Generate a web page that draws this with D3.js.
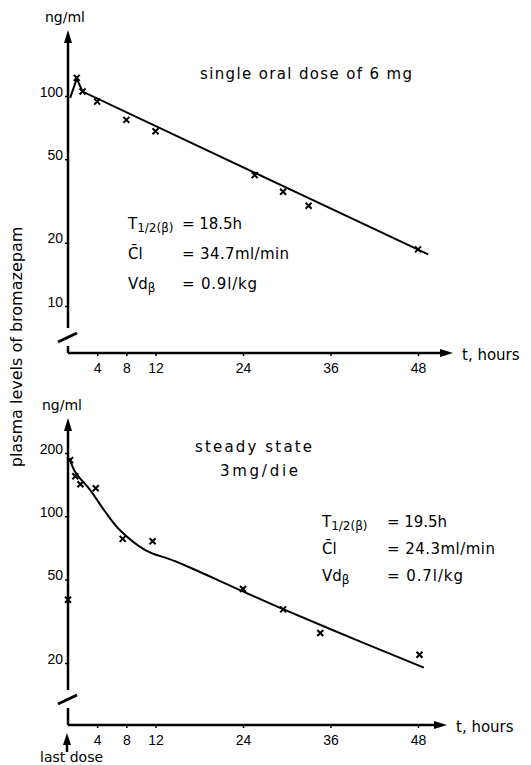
<!DOCTYPE html>
<html>
<head>
<meta charset="utf-8">
<script src="https://cdn.jsdelivr.net/npm/d3@7"></script>
<style>
  body { margin: 0; background: #fff; }
  svg { font-family: "DejaVu Sans", sans-serif; }
</style>
</head>
<body>
<svg id="chart" width="531" height="765"></svg>
<script>
// values
const hourTicks = [4, 8, 12, 24, 36, 48];

const singleTicks = [10, 20, 50, 100];
const singleHours = [1.2, 2, 4, 8, 12, 25.6, 29.5, 33, 48];
const singleLevels = [122, 105, 94, 77, 68, 42, 35, 30, 18.6];
const singleFitHours = [0.3, 1.2, 2, 49.4];
const singleFitLevels = [98, 121, 105, 17.6];

const steadyTicks = [20, 50, 100, 200];
const steadyHours = [0, 0.3, 1, 1.7, 3.8, 7.5, 11.6, 24, 29.5, 34.6, 48.2];
const steadyLevels = [40, 185, 155, 142, 136, 78, 76, 45, 36, 27.8, 21.9];
const steadyFitHours = [0.2, 1, 3, 5.1, 7.1, 10.6, 14.7, 23.6, 29.5, 39.6, 48.8];
const steadyFitLevels = [189, 162, 134, 105, 86, 69, 61, 44.5, 36.1, 25.7, 19];

const svg = d3.select('#chart');
const x0 = 68;
const x = d3.scaleLinear().domain([0, 48]).range([x0, 418]);
const crossPath = 'M-3,-3L3,3M3,-3L-3,3';

// text stretched to the width it has in the scan
function label(g, px, py, str, width) {
    const t = g.append('text').attr('x', px).attr('y', py).style('font-size', '15px').text(str);
    if (width) t.attr('textLength', width).attr('lengthAdjust', 'spacing');
    return t;
}

function drawPanel(p) {
    const g = svg.append('g');
    const y = d3.scaleLog().domain(p.domain).range(p.range);

    // y axis with break
    g.append('line').attr('x1', x0).attr('x2', x0).attr('y1', p.top + 8).attr('y2', p.breakY)
        .attr('stroke', '#000').attr('stroke-width', 2.5);
    g.append('line').attr('x1', x0).attr('x2', x0).attr('y1', p.breakY + 18).attr('y2', p.base)
        .attr('stroke', '#000').attr('stroke-width', 2.5);
    g.append('line').attr('x1', x0 - 10).attr('x2', x0 + 9).attr('y1', p.breakY + 14).attr('y2', p.breakY + 5)
        .attr('stroke', '#000').attr('stroke-width', 3);
    g.append('path')
        .attr('d', `M${x0},${p.top}L${x0 - 4},${p.top + 13}L${x0 + 4},${p.top + 13}Z`)
        .attr('fill', '#000');

    // x axis with arrow
    g.append('line').attr('x1', x0).attr('x2', p.arrowX - 8).attr('y1', p.base).attr('y2', p.base)
        .attr('stroke', '#000').attr('stroke-width', 2.5);
    g.append('path')
        .attr('d', `M${p.arrowX},${p.base}L${p.arrowX - 13},${p.base - 4}L${p.arrowX - 13},${p.base + 4}Z`)
        .attr('fill', '#000');

    const yAxis = g.append('g')
        .attr('transform', `translate(${x0},0)`)
        .call(d3.axisLeft(y).tickValues(p.ticks).tickFormat(d3.format('d')).tickSize(3).tickPadding(2));
    yAxis.select('.domain').remove();
    yAxis.selectAll('text').attr('dy', '0').style('font-size', '14px');
    yAxis.selectAll('line').attr('stroke-width', 1.5);

    const xAxis = g.append('g')
        .attr('transform', `translate(0,${p.base})`)
        .call(d3.axisBottom(x).tickValues(hourTicks).tickSize(3).tickPadding(7));
    xAxis.select('.domain').remove();
    xAxis.selectAll('text').style('font-size', '14px');
    xAxis.selectAll('line').attr('stroke-width', 1.5);

    g.append('text').attr('x', p.unitX).attr('y', p.top - 8).text('ng/ml')
        .style('font-size', '14px');
    g.append('text').attr('x', p.arrowX + 9).attr('y', p.base + 7).text('t, hours')
        .style('font-size', '15px');

    // fitted curve
    const fit = d3.zip(p.fitHours, p.fitLevels);
    g.append('path')
        .datum(fit)
        .attr('fill', 'none')
        .attr('stroke', '#000')
        .attr('stroke-width', 2)
        .attr('d', d3.line().x(d => x(d[0])).y(d => y(d[1])).curve(p.curve));

    // measured points
    g.selectAll('.pt')
        .data(d3.zip(p.hours, p.levels))
        .enter()
        .append('path')
            .attr('class', 'pt')
            .attr('transform', d => `translate(${x(d[0])},${y(d[1])})`)
            .attr('d', crossPath)
            .attr('stroke', '#000')
            .attr('stroke-width', 2);

    p.notes.forEach(n => label(g, n[0], n[1], n[2], n[3]));

    const q = p.params;
    const t = g.append('text').attr('x', q.x).attr('y', q.y).style('font-size', '15px');
    t.append('tspan').text('T');
    t.append('tspan').attr('dy', 3).style('font-size', '12px').text('1/2(β)');
    label(g, q.eq, q.y, '= ' + q.half, q.widths[0]);

    label(g, q.x, q.y + q.step, 'C\u0304l');
    label(g, q.eq, q.y + q.step, '= ' + q.cl, q.widths[1]);

    const v = g.append('text').attr('x', q.x).attr('y', q.y + q.step * 2).style('font-size', '15px');
    v.append('tspan').text('Vd');
    v.append('tspan').attr('dy', 3).style('font-size', '12px').text('β');
    label(g, q.eq, q.y + q.step * 2, '= ' + q.vd, q.widths[2]);
}

drawPanel({
    domain: [10, 100], range: [306, 96], ticks: singleTicks,
    top: 30, breakY: 328, base: 353, arrowX: 453, unitX: 45,
    hours: singleHours, levels: singleLevels,
    fitHours: singleFitHours, fitLevels: singleFitLevels, curve: d3.curveLinear,
    notes: [[200, 79, 'single oral dose of 6 mg', 212]],
    params: { x: 128, y: 229, step: 30, eq: 182, half: '18.5h', cl: '34.7ml/min', vd: '0.9l/kg',
              widths: [60, 107, 75] }
});

drawPanel({
    domain: [20, 200], range: [663, 453], ticks: steadyTicks,
    top: 418, breakY: 690, base: 725, arrowX: 447, unitX: 42,
    hours: steadyHours, levels: steadyLevels,
    fitHours: steadyFitHours, fitLevels: steadyFitLevels, curve: d3.curveCatmullRom,
    notes: [[195, 452, 'steady state', 117], [220, 476, '3mg/die', 78]],
    params: { x: 322, y: 527, step: 27, eq: 387, half: '19.5h', cl: '24.3ml/min', vd: '0.7l/kg',
              widths: [60, 108, 76] }
});

// shared y label
svg.append('text')
    .attr('transform', 'translate(22,347) rotate(-90)')
    .attr('text-anchor', 'middle')
    .style('font-size', '16px')
    .text('plasma levels of bromazepam');

// last dose marker
svg.append('line').attr('x1', x0 - 1).attr('x2', x0 - 1).attr('y1', 742).attr('y2', 752)
    .attr('stroke', '#000').attr('stroke-width', 2.5);
svg.append('path').attr('d', `M${x0 - 1},733L${x0 - 5},745L${x0 + 3},745Z`).attr('fill', '#000');
svg.append('text').attr('x', 40).attr('y', 762).style('font-size', '14px').text('last dose');
</script>
</body>
</html>
